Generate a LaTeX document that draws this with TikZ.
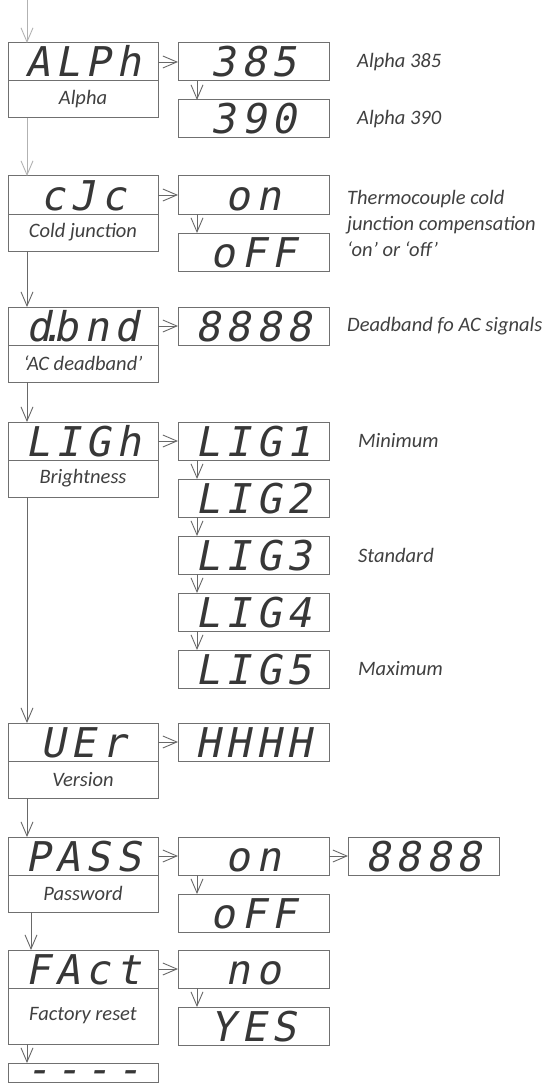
\documentclass[tikz,border=0pt]{standalone}
\usepackage{fontspec}
\setmainfont{Carlito}
\newfontfamily\segfont[LetterSpace=14, FakeSlant=0.2]{DejaVu Sans Mono}
\usetikzlibrary{arrows.meta,positioning}
\definecolor{boxgray}{RGB}{112,112,112}
\definecolor{seggray}{RGB}{55,55,55}
\definecolor{txtgray}{RGB}{64,64,64}
\definecolor{arrgray}{RGB}{105,105,105}
\definecolor{lightarr}{RGB}{178,178,178}

\begin{document}
\begin{tikzpicture}[x=1pt, y=1pt,
    disp/.style={rectangle, draw=boxgray, line width=1pt, minimum width=150pt, minimum height=38pt, inner sep=0pt, outer sep=0pt, text=seggray, font=\segfont\fontsize{41}{41}\selectfont, text height=30pt, text depth=0pt},
    rdisp/.style={disp, minimum width=151pt},
    lbl/.style={rectangle, draw=boxgray, line width=1pt, minimum width=150pt, minimum height=37pt, inner sep=0pt, outer sep=0pt, text=txtgray, font=\itshape\fontsize{20.5}{24}\selectfont},
    note/.style={text=txtgray, font=\itshape\fontsize{20.5}{26}\selectfont, align=left, inner sep=0pt},
    arrow/.style={-{Straight Barb[length=14pt,width=12pt]}, draw=arrgray, line width=0.9pt}
]
\useasboundingbox (0,0) rectangle (553,-1086);
\coordinate (spine) at (27,0);
\coordinate (spineb) at (31,0);
\coordinate (rspine) at (197,0);

% main menu
\node[disp, anchor=north west] (alph) at (8,-43) {ALPh};
\node[lbl, below=0pt of alph] (alphl) {Alpha};
\node[disp, below=58pt of alphl] (cjc) {cJc};
\node[lbl, below=0pt of cjc] (cjcl) {Cold junction};
\node[disp, below=56pt of cjcl] (dbnd) {d\kern-12pt.\kern-10pt bnd};
\node[lbl, below=0pt of dbnd] (dbndl) {‘AC deadband’};
\node[disp, below=40pt of dbndl] (ligh) {LIGh};
\node[lbl, below=0pt of ligh] (lighl) {Brightness};
\node[disp, below=226pt of lighl] (uer) {UEr};
\node[lbl, below=0pt of uer] (uerl) {Version};
\node[disp, below=39pt of uerl] (pass) {PASS};
\node[lbl, below=0pt of pass] (passl) {Password};
\node[disp, below=38pt of passl] (fact) {FAct};
\node[lbl, below=0pt of fact, minimum height=56pt] (factl) {Factory reset};
\node[disp, below=19pt of factl, minimum height=19pt, text height=12pt] (dash) {\raisebox{-4.5pt}{----}};

% settings
\node[rdisp, right=20pt of alph] (a385) {385};
\node[rdisp, below=19pt of a385] (a390) {390};
\node[rdisp, right=20pt of cjc] (cjcon) {on};
\node[rdisp, below=19pt of cjcon] (cjcoff) {oFF};
\node[rdisp, right=20pt of dbnd] (dbval) {8888};
\node[rdisp, right=20pt of ligh] (lig1) {LIG1};
\node[rdisp, below=19pt of lig1] (lig2) {LIG2};
\node[rdisp, below=19pt of lig2] (lig3) {LIG3};
\node[rdisp, below=19pt of lig3] (lig4) {LIG4};
\node[rdisp, below=19pt of lig4] (lig5) {LIG5};
\node[rdisp, right=20pt of uer] (ver) {HHHH};
\node[rdisp, right=20pt of pass] (pson) {on};
\node[rdisp, below=19pt of pson] (psoff) {oFF};
\node[rdisp, right=19pt of pson] (pscode) {8888};
\node[rdisp, right=20pt of fact] (fno) {no};
\node[rdisp, below=19pt of fno] (fyes) {YES};

% notes
\node[note, right=28pt of a385] (n385) {Alpha 385};
\node[note, right=28pt of a390] (n390) {Alpha 390};
\path (cjcon.east) -- (cjcoff.east) node[note, midway, right=18pt] (ncjc) {Thermocouple cold\\junction compensation\\‘on’ or ‘off’};
\node[note, right=18pt of dbval] (ndb) {Deadband fo AC signals};
\node[note, right=29pt of lig1] (nmin) {Minimum};
\node[note, right=29pt of lig3] (nstd) {Standard};
\node[note, right=29pt of lig5] (nmax) {Maximum};

% arrows
\draw[arrow, draw=lightarr] (spine) -- (spine |- alph.north);
\draw[arrow, draw=lightarr] (alphl.south -| spine) -- (cjc.north -| spine);
\foreach \a/\b in {cjcl/dbnd, dbndl/ligh, lighl/uer, uerl/pass, factl/dash}
    \draw[arrow] (\a.south -| spine) -- (\b.north -| spine);
\draw[arrow] (passl.south -| spineb) -- (fact.north -| spineb);
\foreach \a/\b in {alph/a385, cjc/cjcon, dbnd/dbval, ligh/lig1, uer/ver, pass/pson, pson/pscode, fact/fno}
    \draw[arrow] (\a) -- (\b);
\foreach \a/\b in {a385/a390, cjcon/cjcoff, lig1/lig2, lig2/lig3, lig3/lig4, lig4/lig5, pson/psoff, fno/fyes}
    \draw[arrow] (\a.south -| rspine) -- (\b.north -| rspine);
\end{tikzpicture}
\end{document}
